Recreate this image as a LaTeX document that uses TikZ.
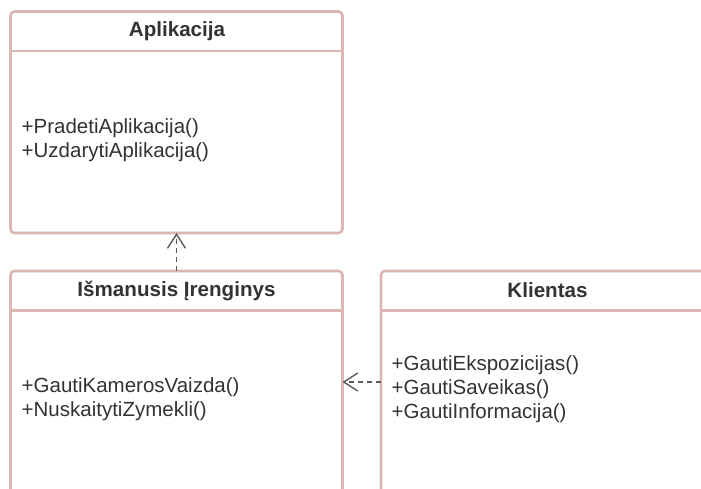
\documentclass[tikz,border=0pt]{standalone}
\usepackage{fontspec}
\setmainfont{Liberation Sans}
\usetikzlibrary{arrows.meta}
\definecolor{boxline}{RGB}{219,183,178}
\definecolor{txt}{RGB}{51,51,51}
\definecolor{depline}{RGB}{90,90,90}
\tikzset{
  classbox/.style={draw=boxline, line width=2.6pt, rounded corners=4pt,
    fill=white, inner sep=0pt, outer sep=0pt},
  classtitle/.style={font=\fontsize{20.6}{24}\selectfont\bfseries, text=txt, inner sep=0pt},
  methods/.style={font=\fontsize{20.5}{24}\selectfont, text=txt, align=left,
    anchor=west, inner sep=0pt},
  divider/.style={draw=boxline, line width=2.6pt},
  dep/.style={draw=depline, line width=1.4pt, dash pattern=on 5pt off 4pt,
    -{Straight Barb[length=14pt, width=18pt, line width=1.4pt]}}
}
\begin{document}
\begin{tikzpicture}[x=1pt, y=-1pt]
  \useasboundingbox (0,0) rectangle (701,488);
  \clip (0,0) rectangle (701,488);
  \fill[white] (0,0) rectangle (701,488);

  % class boxes
  \node[classbox, minimum width=332pt, minimum height=221.5pt] (app) at (176.5,122.25) {};
  \node[classbox, minimum width=332pt, minimum height=289pt] (ism) at (176.5,415.5) {};
  \node[classbox, minimum width=333pt, minimum height=289pt] (kli) at (547.5,415.5) {};

  % header separators
  \draw[divider] ([yshift=-39.5pt]app.north west) -- ([yshift=-39.5pt]app.north east);
  \draw[divider] ([yshift=-39.5pt]ism.north west) -- ([yshift=-39.5pt]ism.north east);
  \draw[divider] ([yshift=-39.5pt]kli.north west) -- ([yshift=-39.5pt]kli.north east);

  % class names
  \node[classtitle] (appname) at (177,31) {Aplikacija};
  \node[classtitle] (ismname) at (176.5,290.5) {Išmanusis Įrenginys};
  \node[classtitle] (kliname) at (547.5,290.5) {Klientas};

  % operations
  \node[methods] (appops) at (21.5,140.5) {+PradetiAplikacija()\\+UzdarytiAplikacija()};
  \node[methods] (ismops) at (21.5,399.5) {+GautiKamerosVaizda()\\+NuskaitytiZymekli()};
  \node[methods] (kliops) at (391.5,389) {+GautiEkspozicijas()\\+GautiSaveikas()\\+GautiInformacija()};

  % dependencies
  \draw[dep] (ism.north) -- (app.south);
  \draw[dep] ([yshift=33.5pt]kli.west) -- ([yshift=33.5pt]ism.east);
\end{tikzpicture}
\end{document}
